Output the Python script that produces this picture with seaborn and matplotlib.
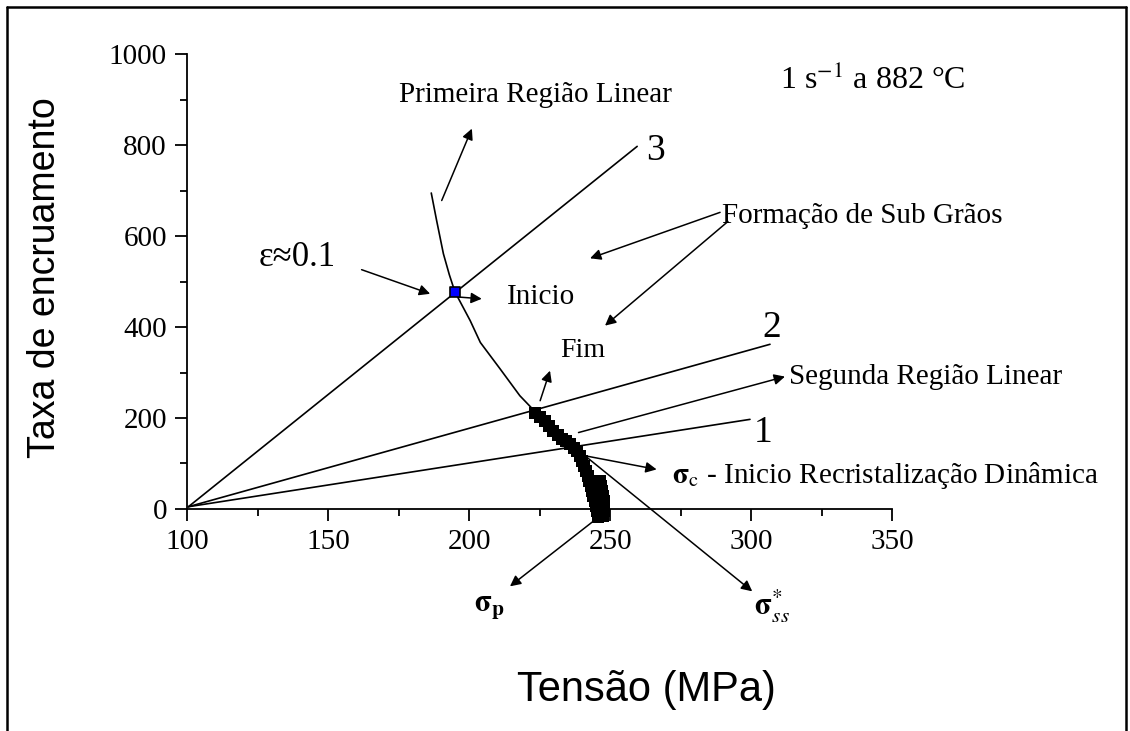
import matplotlib
matplotlib.use("Agg")
import matplotlib.pyplot as plt
from matplotlib.lines import Line2D
from matplotlib.ticker import MultipleLocator
import seaborn as sns
import pandas as pd

# ---------------- data ----------------
# thin part of the hardening-rate curve (Tensão MPa, Taxa de encruamento)
curve_x = [186.6, 188.5, 190.9, 193.0, 195.0, 200.4, 204.0, 211.0, 218.0, 222.8]
curve_y = [694.5, 634.0, 561.0, 515.0, 477.0, 414.0, 366.0, 308.0, 249.0, 218.0]
# thick (dense data) part of the curve
band_x = [223.4, 225.2, 227.0, 228.4, 229.8, 231.6, 233.0, 234.4, 235.8, 237.2,
          238.3, 239.4, 240.1, 240.8, 241.5, 242.0, 242.6, 243.1, 243.6, 244.1,
          244.7, 245.0, 245.4, 245.7,
          246.5, 246.8, 247.2, 247.5, 247.9, 247.9, 247.9, 247.5]
band_y = [211.5, 202.6, 193.8, 182.8, 171.8, 163.0, 154.2, 149.8, 143.2, 134.4,
          127.8, 116.7, 105.7, 94.7, 83.7, 72.7, 61.7, 50.7, 39.6, 28.6,
          17.6, 6.6, -4.4, -17.6,
          61.7, 50.7, 39.6, 28.6, 17.6, 6.6, -4.4, -15.4]
# onset point (eps ~ 0.1)
onset_x = [195.0]
onset_y = [477.0]
# straight lines 1, 2, 3 (start / end)
line_names = ["1", "2", "3"]
line_x0 = [100.5, 100.5, 100.5]
line_y0 = [5.0, 5.0, 5.0]
line_x1 = [299.6, 306.7, 259.6]
line_y1 = [197.0, 362.0, 797.0]
line_label_x = [304.3, 307.4, 266.0]
line_label_y = [167.0, 398.0, 788.0]

x_ticks = [100, 150, 200, 250, 300, 350]
y_ticks = [0, 200, 400, 600, 800, 1000]

# ---------------- style ----------------
sns.set_style("ticks")
plt.rcParams["font.family"] = ["Liberation Serif", "DejaVu Serif"]
plt.rcParams["mathtext.fontset"] = "stix"
plt.rcParams["text.color"] = "black"
plt.rcParams["axes.labelcolor"] = "black"
plt.rcParams["xtick.color"] = "black"
plt.rcParams["ytick.color"] = "black"

fig = plt.figure(figsize=(11.3, 7.31), dpi=100)
ax = fig.add_axes([0.1655, 0.3037, 0.624, 0.6224])

# straight lines
for i in range(3):
    df = pd.DataFrame({"x": [line_x0[i], line_x1[i]], "y": [line_y0[i], line_y1[i]]})
    sns.lineplot(data=df, x="x", y="y", ax=ax, color="black", lw=1.2, sort=False,
                 estimator=None)
    ax.text(line_label_x[i], line_label_y[i], line_names[i], fontsize=27,
            ha="center", va="center", color="black")

# curve
dfc = pd.DataFrame({"x": curve_x, "y": curve_y})
sns.lineplot(data=dfc, x="x", y="y", ax=ax, color="black", lw=1.2, sort=False,
             estimator=None)
dfb = pd.DataFrame({"x": band_x, "y": band_y})
sns.scatterplot(data=dfb, x="x", y="y", ax=ax, marker="s", s=75, color="black",
                edgecolor="black", linewidth=0, clip_on=False, zorder=5)
dfo = pd.DataFrame({"x": onset_x, "y": onset_y})
sns.scatterplot(data=dfo, x="x", y="y", ax=ax, marker="s", s=50, color="#0000ff",
                edgecolor="black", linewidth=1.2, zorder=6)

ax.set_xlim(100, 350)
ax.set_ylim(0, 1000)
ax.set_xticks(x_ticks)
ax.set_yticks(y_ticks)
ax.xaxis.set_minor_locator(MultipleLocator(25))
ax.yaxis.set_minor_locator(MultipleLocator(100))
ax.tick_params(which="major", direction="out", length=8.5, width=1.3,
               labelsize=21, pad=6, colors="black")
ax.tick_params(which="minor", direction="out", length=5, width=1.3, colors="black")
for s in ["left", "bottom"]:
    ax.spines[s].set_linewidth(1.3)
    ax.spines[s].set_color("black")
sns.despine(ax=ax)

ax.set_xlabel("")
ax.set_ylabel("")
fig.text(0.04, 0.62, "Taxa de encruamento", rotation=90, ha="center", va="center",
         fontsize=27, family=["Liberation Sans", "DejaVu Sans"], color="black")
fig.text(0.572, 0.056, "Tensão (MPa)", ha="center", va="center",
         fontsize=30, family=["Liberation Sans", "DejaVu Sans"], color="black")

arrow = dict(arrowstyle="-|>", color="black", lw=1.1, mutation_scale=16,
             shrinkA=0, shrinkB=0)

TS = 21  # annotation text size

# annotations
ax.text(310.3, 942, r"1 s$^{-1}$ a 882 °C", fontsize=23, ha="left", va="center")
ax.text(223.4, 910, "Primeira Região Linear", fontsize=TS, ha="center", va="center")
ax.annotate("", xy=(201.0, 836.0), xytext=(190.3, 678.0), arrowprops=arrow)

ax.text(139.2, 553, "ε≈0.1", fontsize=25, ha="center", va="center")
ax.annotate("", xy=(186.2, 473.0), xytext=(161.9, 526.0), arrowprops=arrow)

ax.text(213.4, 467, "Inicio", fontsize=TS, ha="left", va="center")
ax.annotate("", xy=(204.5, 462.0), xytext=(196.0, 466.0), arrowprops=arrow)

ax.text(232.3, 348, "Fim", fontsize=TS - 1, ha="left", va="center")
ax.annotate("", xy=(228.7, 304.0), xytext=(225.2, 238.0), arrowprops=arrow)

ax.text(289.7, 645, "Formação de Sub Grãos", fontsize=TS, ha="left", va="center")
ax.annotate("", xy=(242.9, 551.0), xytext=(289.0, 652.0), arrowprops=arrow)
ax.annotate("", xy=(248.2, 403.0), xytext=(291.8, 632.0), arrowprops=arrow)

ax.annotate("", xy=(312.0, 291.0), xytext=(238.8, 168.0), arrowprops=arrow)
ax.text(313.5, 291, "Segunda Região Linear", fontsize=TS, ha="left", va="center")

ax.annotate("", xy=(266.5, 87.0), xytext=(241.1, 117.0), arrowprops=arrow)
ax.text(271.8, 73, r"$\mathbf{\sigma}_\mathrm{c}$ - Inicio Recristalização Dinâmica",
        fontsize=TS, ha="left", va="center")

ax.annotate("", xy=(214.5, -170.0), xytext=(246.5, -15.0), arrowprops=arrow,
            annotation_clip=False)
ax.text(207.4, -214, r"$\mathbf{\sigma}_\mathbf{p}$", fontsize=22, ha="center",
        va="center")
ax.annotate("", xy=(300.4, -181.0), xytext=(241.1, 117.0), arrowprops=arrow,
            annotation_clip=False)
ax.text(307.5, -214, r"$\mathbf{\sigma}^{*}_{ss}$", fontsize=22, ha="center",
        va="center")

# outer frame
fw = 1.8
fig.add_artist(Line2D([0.0062, 0.0062], [0.0, 0.9904], color="black", lw=fw))
fig.add_artist(Line2D([0.0062, 0.9965], [0.9904, 0.9904], color="black", lw=fw))
fig.add_artist(Line2D([0.9965, 0.9965], [0.0, 0.9904], color="black", lw=fw))

fig.savefig("out.png", dpi=100)
